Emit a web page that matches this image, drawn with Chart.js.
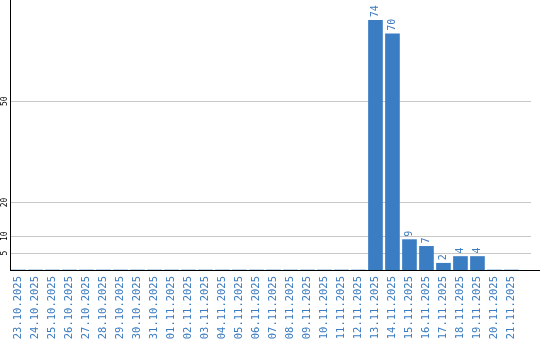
<!DOCTYPE html>
<html>
<head>
<meta charset="utf-8">
<script src="https://cdn.jsdelivr.net/npm/chart.js@4/dist/chart.umd.min.js"></script>
<style>
  html, body { margin: 0; padding: 0; background: #fff; }
  #wrap { width: 540px; height: 340px; }
</style>
</head>
<body>
<div id="wrap"><canvas id="barChart" width="540" height="340"></canvas></div>
<script>
// data
var dates = ['23.10.2025', '24.10.2025', '25.10.2025', '26.10.2025', '27.10.2025', '28.10.2025',
             '29.10.2025', '30.10.2025', '31.10.2025', '01.11.2025', '02.11.2025', '03.11.2025',
             '04.11.2025', '05.11.2025', '06.11.2025', '07.11.2025', '08.11.2025', '09.11.2025',
             '10.11.2025', '11.11.2025', '12.11.2025', '13.11.2025', '14.11.2025', '15.11.2025',
             '16.11.2025', '17.11.2025', '18.11.2025', '19.11.2025', '20.11.2025', '21.11.2025'];
var counts = [0, 0, 0, 0, 0, 0, 0, 0, 0, 0, 0, 0, 0, 0, 0, 0, 0, 0, 0, 0, 0,
              74, 70, 9, 7, 2, 4, 4, 0, 0];
var yTicks = [5, 10, 20, 50];

var blue = '#3a7dc3';
var textBlue = '#3b7bbf';

// rotated labels: bar values, dates and y ticks
var barLabels = {
    id: 'barLabels',
    afterDatasetsDraw: function(chart) {
        var ctx = chart.ctx;
        var meta = chart.getDatasetMeta(0);
        ctx.save();
        ctx.fillStyle = textBlue;
        ctx.font = '10px "DejaVu Sans Mono"';
        ctx.textAlign = 'left';
        ctx.textBaseline = 'middle';
        meta.data.forEach(function(bar, i) {
            if (!counts[i]) return;
            ctx.save();
            ctx.translate(bar.x, bar.y - 3);
            ctx.rotate(-Math.PI / 2);
            ctx.fillText(String(counts[i]), 0, 0);
            ctx.restore();
        });
        ctx.restore();
    },
    afterDraw: function(chart) {
        var ctx = chart.ctx;
        var area = chart.chartArea;
        var x = chart.scales.x;
        var y = chart.scales.y;
        ctx.save();
        ctx.fillStyle = textBlue;
        ctx.font = '10.5px "DejaVu Sans Mono"';
        ctx.textAlign = 'right';
        ctx.textBaseline = 'middle';
        dates.forEach(function(d, i) {
            ctx.save();
            ctx.translate(x.getPixelForValue(i), area.bottom + 6);
            ctx.rotate(-Math.PI / 2);
            ctx.fillText(d, 0, 0);
            ctx.restore();
        });
        ctx.fillStyle = '#000';
        ctx.font = '8px "DejaVu Sans Mono"';
        ctx.textAlign = 'center';
        yTicks.forEach(function(v) {
            ctx.save();
            ctx.translate(5, y.getPixelForValue(v));
            ctx.rotate(-Math.PI / 2);
            ctx.fillText(String(v), 0, 0);
            ctx.restore();
        });
        // x axis line runs to the edge
        ctx.strokeStyle = '#000';
        ctx.lineWidth = 1;
        ctx.beginPath();
        ctx.moveTo(area.right, Math.round(area.bottom) + 0.5);
        ctx.lineTo(chart.width, Math.round(area.bottom) + 0.5);
        ctx.stroke();
        ctx.restore();
    }
};

var ctx = document.getElementById('barChart').getContext('2d');
var chart = new Chart(ctx, {
    type: 'bar',
    data: {
        datasets: [{
            data: counts.map(function(v, i) { return { x: i, y: v }; }),
            backgroundColor: blue,
            borderWidth: 0,
            barThickness: 14
        }]
    },
    plugins: [barLabels],
    options: {
        responsive: false,
        animation: false,
        layout: { padding: { left: 0, right: 9, top: 0, bottom: 0 } },
        plugins: {
            legend: { display: false },
            tooltip: { enabled: false }
        },
        scales: {
            x: {
                type: 'linear',
                offset: false,
                min: -0.5,
                max: 30.15,
                afterBuildTicks: function(scale) {
                    scale.ticks = dates.map(function(d, i) { return { value: i }; });
                },
                afterFit: function(scale) { scale.height = 70; },
                grid: { display: false, drawTicks: false, offset: false },
                border: { color: '#000', width: 1 },
                ticks: { display: false }
            },
            y: {
                min: 0,
                max: 80,
                afterBuildTicks: function(scale) {
                    scale.ticks = yTicks.map(function(v) { return { value: v }; });
                },
                afterFit: function(scale) { scale.width = 10; },
                grid: { color: '#c8c8c8', drawTicks: false },
                border: { color: '#000', width: 1 },
                ticks: { display: false }
            }
        }
    }
});
</script>
</body>
</html>
